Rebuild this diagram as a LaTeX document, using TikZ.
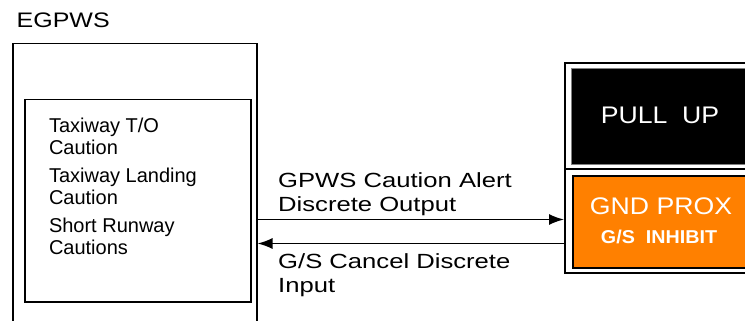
\documentclass[tikz,border=0pt]{standalone}
\usepackage{fontspec}
\setmainfont{Liberation Sans}
\newfontfamily\titlefont[FakeStretch=1.19]{Liberation Sans}
\newfontfamily\labelfont[FakeStretch=1.25]{Liberation Sans}
\newfontfamily\panelfont[FakeStretch=1.11]{Liberation Sans}
\newfontfamily\inhibitfont[FakeStretch=1.06]{Liberation Sans}
\usetikzlibrary{arrows.meta}
\definecolor{proxorange}{RGB}{255,128,0}
\newcommand{\gsinhibit}{G/S\ \ INHIBIT}

\begin{document}
\begin{tikzpicture}[x=1pt, y=-1pt,
    unitbox/.style={draw, line width=1.5pt, anchor=north west, inner sep=0pt},
    cell/.style={anchor=north west, inner sep=0pt},
    signal/.style={line width=1.5pt, -{Latex[length=15pt,width=11pt]}},
    listtext/.style={anchor=north west, inner sep=0pt, align=left,
      font=\fontsize{20}{22}\selectfont},
    sigtext/.style={anchor=north west, inner sep=0pt, align=left,
      font=\labelfont\fontsize{20.5}{24}\selectfont},
    paneltext/.style={anchor=base, inner sep=0pt, text=white}]
    \useasboundingbox (0,0) rectangle (745,321);
    \clip (0,0) rectangle (745,321);
    % EGPWS computer
    \node [anchor=base west, inner sep=0pt,
      font=\titlefont\fontsize{21}{24}\selectfont] (title) at (16.5,27.7) {EGPWS};
    \node [unitbox, minimum width=244pt, minimum height=320pt] (egpws) at (12,43) {};
    \node [unitbox, minimum width=226pt, minimum height=202pt] (alerts) at (24,99) {};
    \node [listtext] (alertlist) at (48.8,118)
      {Taxiway T/O\\Caution\\[6pt]Taxiway Landing\\Caution\\[6pt]Short Runway\\Cautions};
    % annunciator
    \node [cell, draw, line width=2pt, minimum width=240pt, minimum height=209.5pt]
      (annunciator) at (564,62.5) {};
    \draw [line width=2pt] (564,168.5) -- (804,168.5);
    \node [cell, fill=black, draw=gray, line width=0.8pt, minimum width=235pt,
      minimum height=95.5pt] (pullup) at (571,68) {};
    \node [cell, fill=proxorange, draw=black, line width=2pt, minimum width=235pt,
      minimum height=91.5pt] (gndprox) at (572,175) {};
    \node [paneltext, font=\panelfont\fontsize{24}{28}\selectfont] (pulluptext)
      at (660,124) {PULL\ \ UP};
    \node [paneltext, font=\panelfont\fontsize{24}{28}\selectfont] (gndproxtext)
      at (661,214) {GND PROX};
    \node [paneltext, font=\inhibitfont\bfseries\fontsize{18.6}{22}\selectfont]
      (inhibittext) at (659,243.3) {\gsinhibit};
    % discretes
    \coordinate (outy) at (0,219.5);
    \coordinate (iny) at (0,243.5);
    \draw [signal] (egpws.east |- outy) to (annunciator.west |- outy);
    \draw [signal] (annunciator.west |- iny) to (egpws.east |- iny);
    \node [sigtext] (outlabel) at (278,172.5) {GPWS Caution Alert\\Discrete Output};
    \node [sigtext] (inlabel) at (278,253.5) {G/S Cancel Discrete\\Input};
\end{tikzpicture}
\end{document}
